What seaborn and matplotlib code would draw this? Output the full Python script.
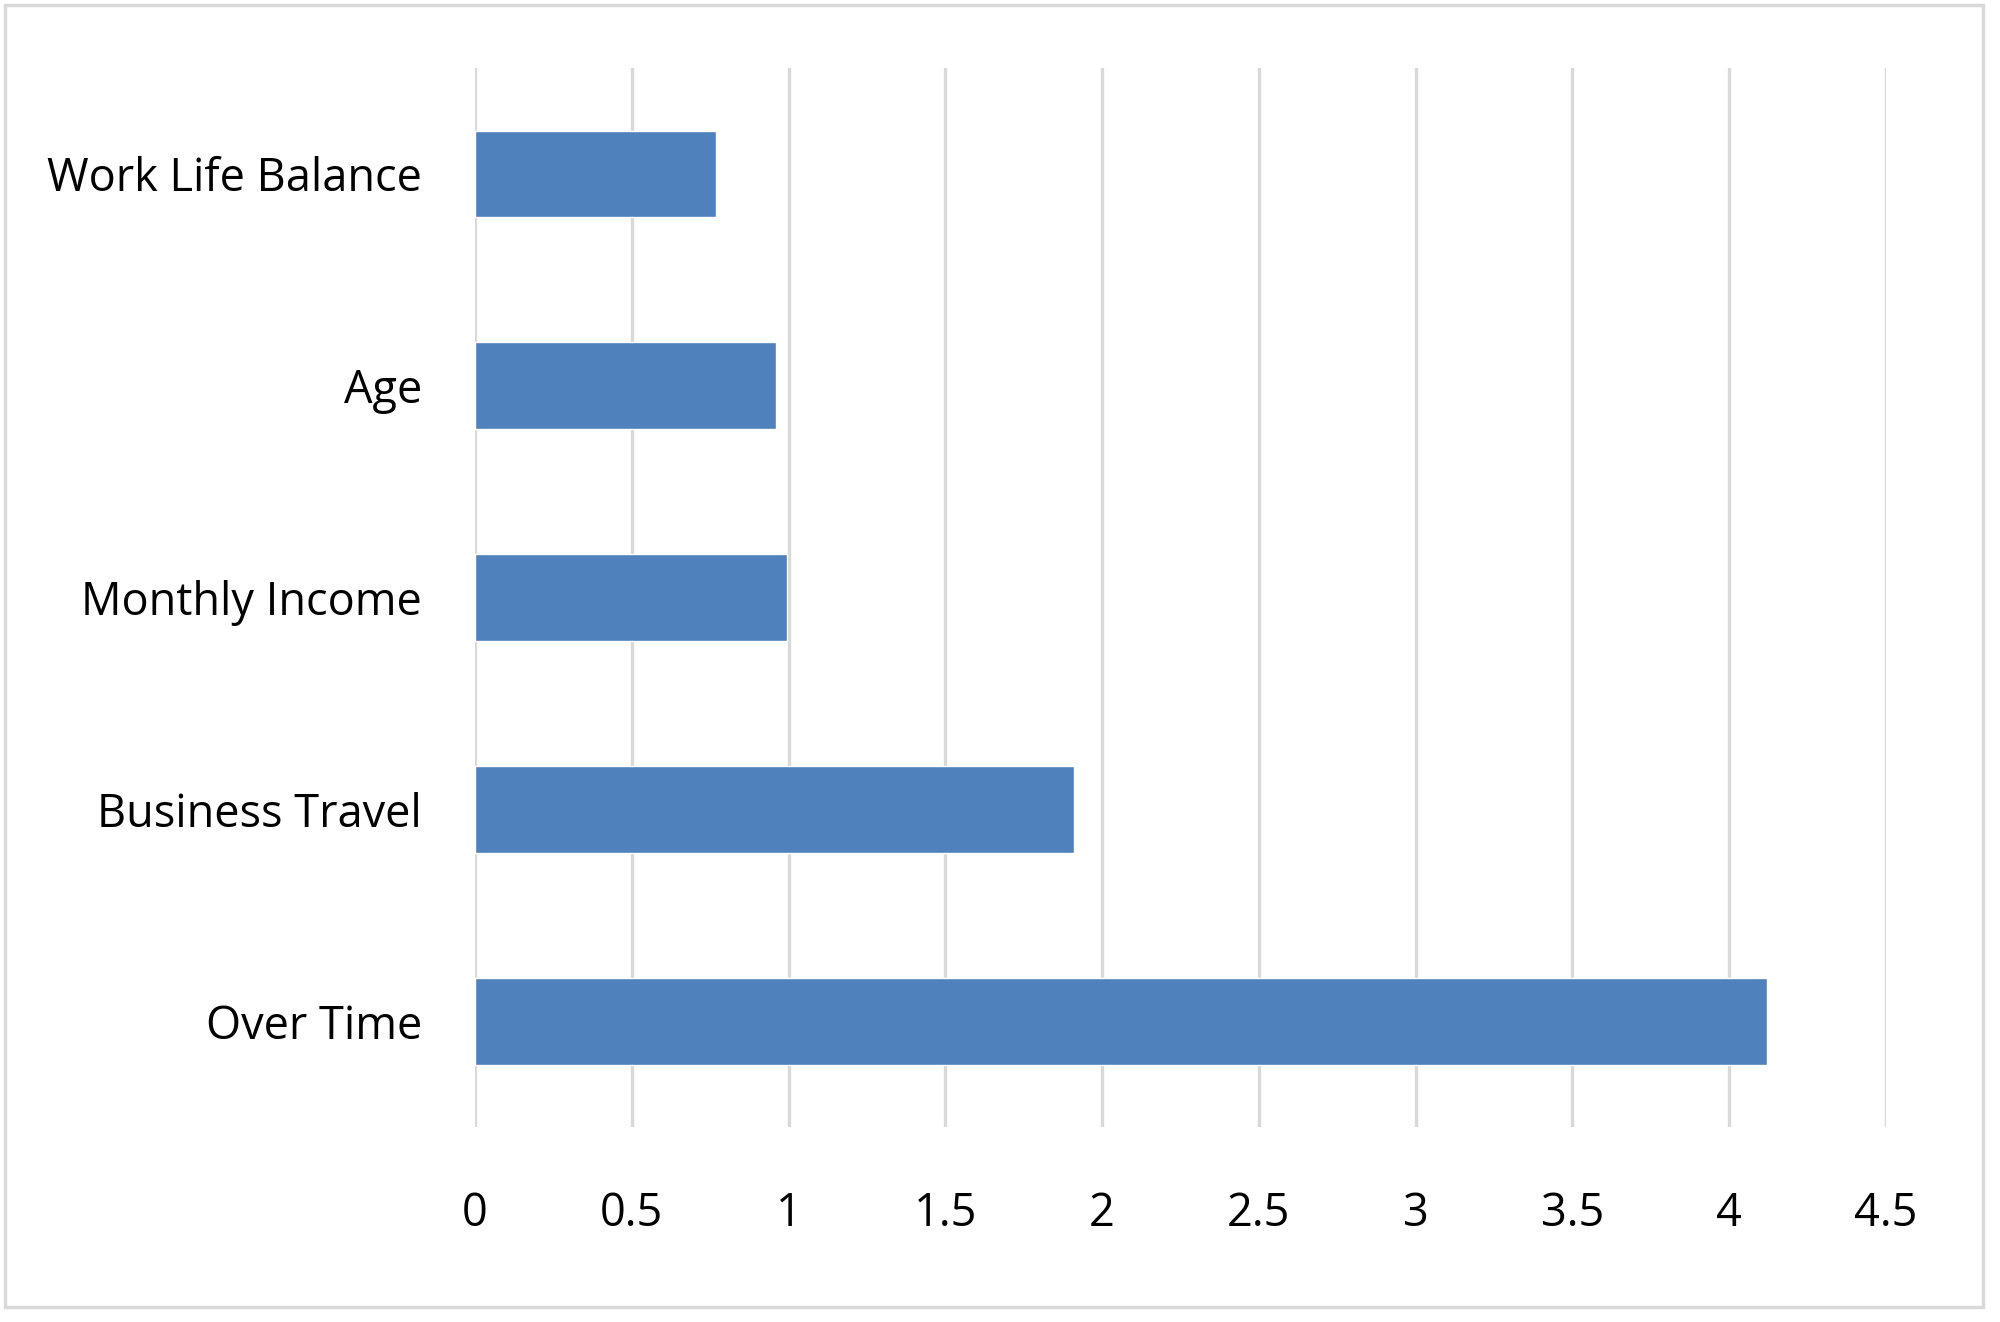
import matplotlib
matplotlib.use('Agg')

import numpy as np
import pandas as pd
import seaborn as sns
import matplotlib.pyplot as plt
from matplotlib.patches import Rectangle

# Data
categories = ['Work Life Balance', 'Age', 'Monthly Income', 'Business Travel', 'Over Time']
values = [0.77, 0.96, 0.995, 1.91, 4.12]
x_ticks = [0, 0.5, 1, 1.5, 2, 2.5, 3, 3.5, 4, 4.5]
x_tick_labels = ['0', '0.5', '1', '1.5', '2', '2.5', '3', '3.5', '4', '4.5']

df = pd.DataFrame({'feature': categories, 'value': values})

sns.set_theme(style='white')
plt.rcParams['font.family'] = ['Open Sans', 'DejaVu Sans']

fig = plt.figure(figsize=(20, 13.22), dpi=100)
ax = fig.add_axes([0.2375, 0.1475, 0.7055, 0.801])

sns.barplot(data=df, x='value', y='feature', orient='h', color='#4F81BD',
            saturation=1, width=0.41, ax=ax, zorder=3)

ax.set_xlim(0, 4.5)
ax.set_xticks(x_ticks)
ax.set_xticklabels(x_tick_labels)
ax.set_xlabel('')
ax.set_ylabel('')

# light vertical gridlines, the x=0 one doubles as the axis line
ax.grid(axis='x', color='#d9d9d9', linewidth=2.4, zorder=0)
ax.grid(axis='y', visible=False)
for s in ax.spines.values():
    s.set_visible(False)
ax.set_axisbelow(True)

ax.tick_params(axis='both', length=0, labelsize=32.5, colors='black')
ax.tick_params(axis='x', pad=46)
ax.tick_params(axis='y', pad=38)

# outer chart border
fig.patches.append(Rectangle((0.0025, 0.0115), 0.989, 0.985, transform=fig.transFigure,
                             fill=False, edgecolor='#d9d9d9', linewidth=2.5))

fig.savefig('out.png', dpi=100, facecolor='white')
plt.close()
